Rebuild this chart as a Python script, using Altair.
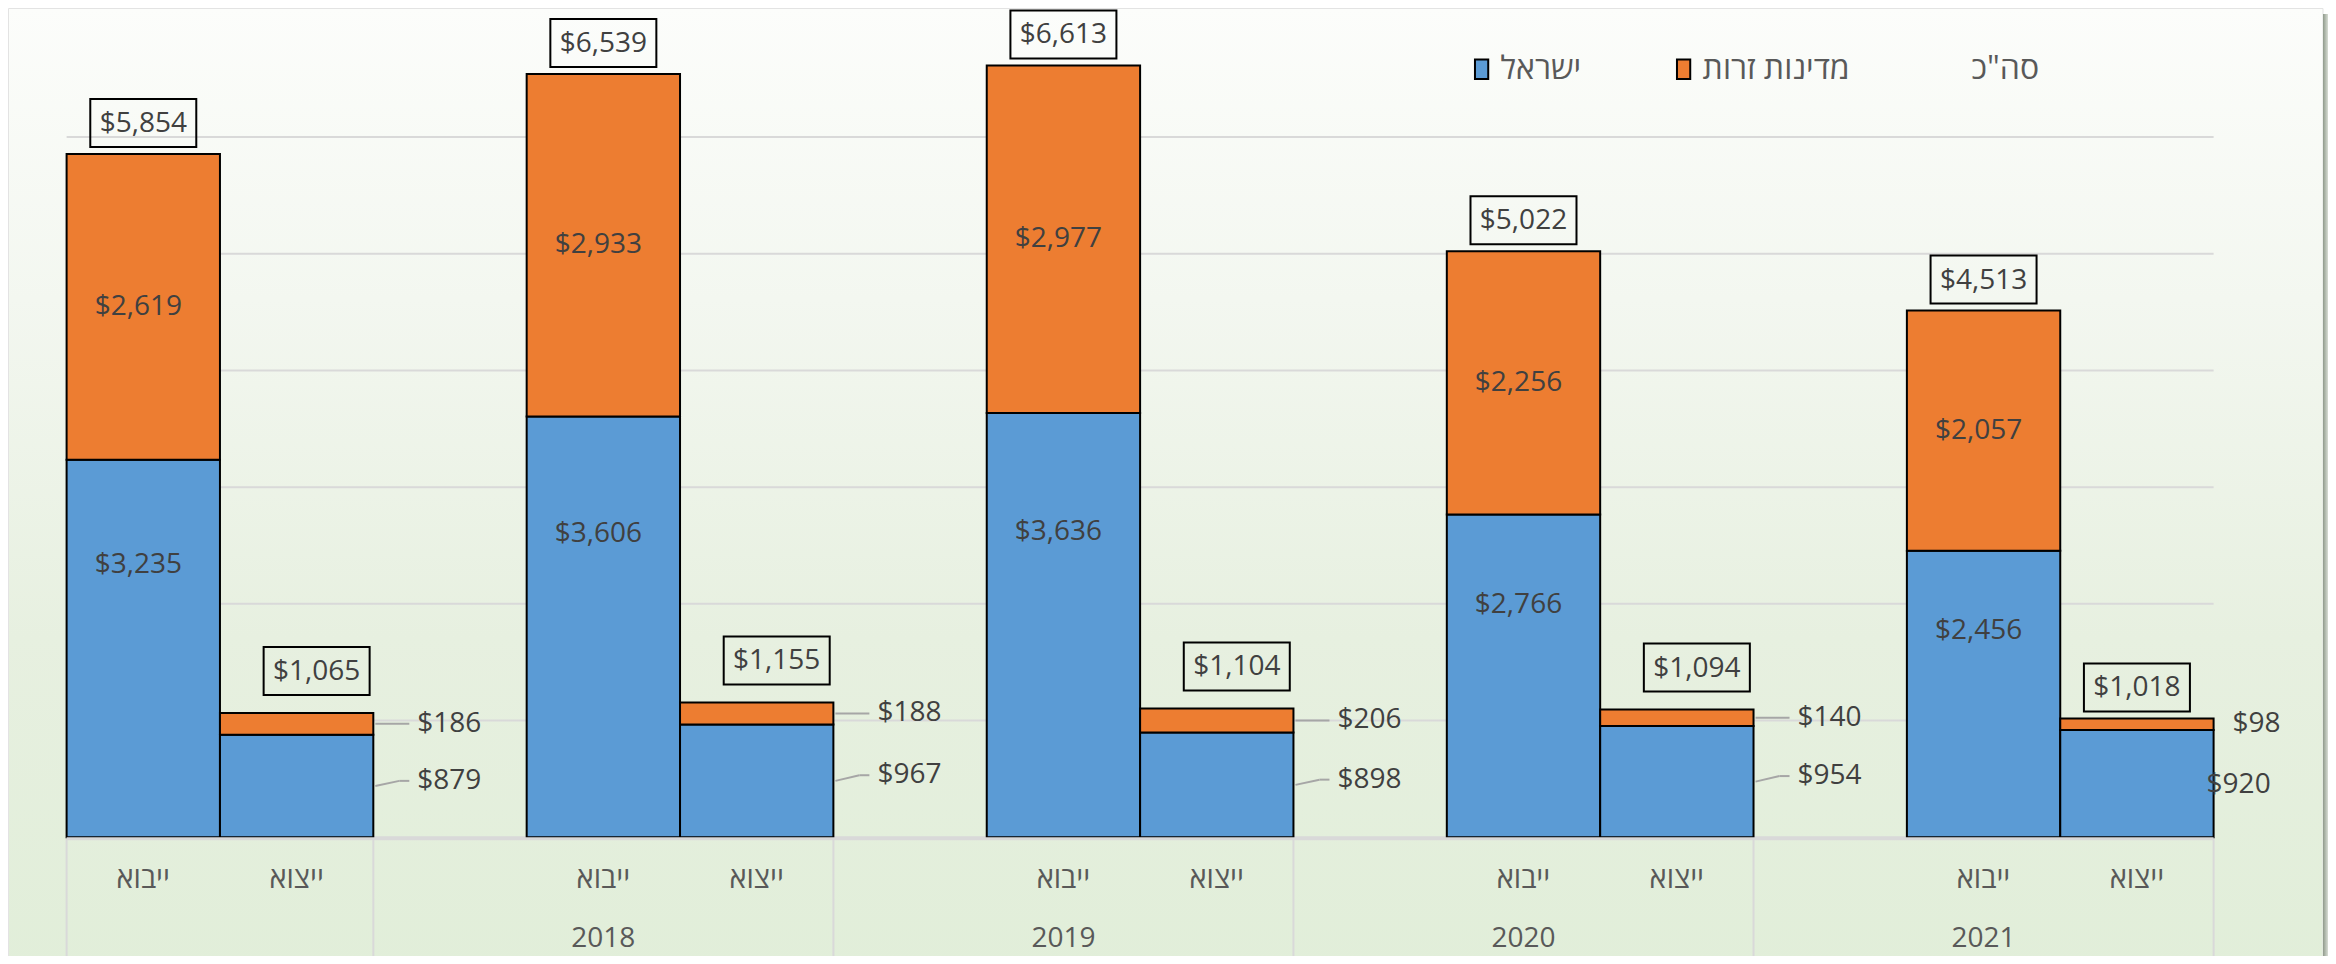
import altair as alt
import pandas as pd

# ---------------- data ----------------
years = ["", "2018", "2019", "2020", "2021"]
flow_names = ["ייבוא", "ייצוא"]
series_names = ["ישראל", "מדינות זרות", 'סה"כ']
israel_import = [3235, 3606, 3636, 2766, 2456]
foreign_import = [2619, 2933, 2977, 2256, 2057]
israel_export = [879, 967, 898, 954, 920]
foreign_export = [186, 188, 206, 140, 98]
gridlines = [0, 1000, 2000, 3000, 4000, 5000, 6000]
y_max = 7000

# ---------------- tables ----------------
slots = []
rows = []
for i, yr in enumerate(years):
    if i > 0:
        slots.append(f"{i}|")
    for k, flow in enumerate(flow_names):
        key = f"{i}|{flow}"
        slots.append(key)
        rows.append(dict(
            slot=key, year=yr, flow=flow, kind="imp" if k == 0 else "exp",
            israel=israel_import[i] if k == 0 else israel_export[i],
            foreign=foreign_import[i] if k == 0 else foreign_export[i],
            last=(i == len(years) - 1),
        ))
wide = pd.DataFrame(rows)
long = pd.DataFrame([
    dict(slot=r["slot"], series=s, value=r[c], order=o)
    for r in rows
    for o, (s, c) in enumerate([(series_names[0], "israel"), (series_names[1], "foreign")])
])

# ---------------- layout ----------------
PW, PH = 2147, 817
PAD_L, PAD_T = 58.6, 12.3
TOTAL_W, TOTAL_H = 2320, 948
HALF = PW / len(slots) / 2
FONT = "Open Sans, Liberation Sans, DejaVu Sans"
TXT = "#404040"
AX = "#595959"
GRID = "#d9d9d9"
FS = 28

xscale = alt.Scale(type="band", domain=slots, paddingInner=0, paddingOuter=0)
yscale = alt.Scale(domain=[0, y_max], nice=False, zero=True)


def X(**kw):
    return alt.X("slot:N", scale=xscale, axis=None, **kw)


def Y(field):
    return alt.Y(field, scale=yscale, axis=None)


one = pd.DataFrame({"k": [0]})

bg = alt.Chart(one).mark_rect(
    color=alt.Gradient(
        gradient="linear",
        stops=[
            alt.GradientStop(color="#fcfdfb", offset=0),
            alt.GradientStop(color="#f3f7f0", offset=0.3),
            alt.GradientStop(color="#e7f0e0", offset=0.65),
            alt.GradientStop(color="#e1eed9", offset=1),
        ],
        x1=0, x2=0, y1=0, y2=1,
    ),
    stroke="#e3e3e3", strokeWidth=1,
).encode(
    x=alt.value(-PAD_L + 0.5), x2=alt.value(TOTAL_W - PAD_L - 5),
    y=alt.value(-PAD_T + 0.5), y2=alt.value(TOTAL_H - PAD_T + 20),
)

shadow = alt.Chart(one).mark_rect(
    color=alt.Gradient(
        gradient="linear",
        stops=[alt.GradientStop(color="#8f9a8b", offset=0),
               alt.GradientStop(color="#d8ddd5", offset=1)],
        x1=0, x2=1, y1=0, y2=0,
    ),
).encode(
    x=alt.value(TOTAL_W - PAD_L - 5), x2=alt.value(TOTAL_W - PAD_L),
    y=alt.value(-PAD_T + 6), y2=alt.value(TOTAL_H - PAD_T + 20),
)

grid_df = pd.DataFrame({"v": gridlines})
grid = alt.Chart(grid_df).mark_rule(color=GRID, strokeWidth=2).encode(
    y=Y("v:Q"), x=alt.value(0), x2=alt.value(PW)
)

legend = alt.Legend(
    title=None, orient="none", legendX=1399, legendY=33, direction="horizontal",
    columnPadding=86, labelFont=FONT, labelFontSize=32, labelColor=AX,
    symbolType="M-0.68,-1H0.68V1H-0.68Z", symbolSize=380, symbolStrokeWidth=2,
    labelOffset=3, padding=0,
)

bars = alt.Chart(long).mark_bar(strokeWidth=2).encode(
    x=X(),
    y=alt.Y("value:Q", stack="zero", scale=yscale, axis=None),
    color=alt.Color("series:N", scale=alt.Scale(domain=series_names,
                    range=["#5b9bd5", "#ed7d31", "rgba(0,0,0,0)"]), legend=legend),
    stroke=alt.Stroke("series:N", scale=alt.Scale(domain=series_names,
                      range=["#000000", "#000000", "rgba(0,0,0,0)"]), legend=legend),
    order=alt.Order("order:Q", sort="ascending"),
)

baseline = alt.Chart(grid_df).transform_filter("datum.v == 0").mark_rule(
    color=GRID, strokeWidth=3, yOffset=1.5
).encode(y=Y("v:Q"), x=alt.value(0), x2=alt.value(PW))

base = alt.Chart(wide)
money = lambda f: f"'$' + format(datum.{f}, ',')"

# --- labels inside import bars ---
imp = base.transform_filter("datum.kind == 'imp'")
imp_or = imp.transform_calculate(
    ypos="datum.israel + datum.foreign / 2", txt=money("foreign")
).mark_text(font=FONT, fontSize=FS, color=TXT, dx=-5).encode(
    x=X(bandPosition=0.5), y=Y("ypos:Q"), text="txt:N")
imp_bl = imp.transform_calculate(
    ypos="datum.israel * 0.72", txt=money("israel")
).mark_text(font=FONT, fontSize=FS, color=TXT, dx=-5).encode(
    x=X(bandPosition=0.5), y=Y("ypos:Q"), text="txt:N")

# --- labels next to export bars ---
exp = base.transform_filter("datum.kind == 'exp' && !datum.last")
exp_or = exp.transform_calculate(
    ypos="datum.israel + datum.foreign / 2", txt=money("foreign")
).mark_text(font=FONT, fontSize=FS, color=TXT, align="left", dx=HALF + 44).encode(
    x=X(bandPosition=0.5), y=Y("ypos:Q"), text="txt:N")
exp_bl = exp.transform_calculate(
    ypos="datum.israel * 0.55", txt=money("israel")
).mark_text(font=FONT, fontSize=FS, color=TXT, align="left", dx=HALF + 44).encode(
    x=X(bandPosition=0.5), y=Y("ypos:Q"), text="txt:N")

lead_or = exp.transform_calculate(ypos="datum.israel + datum.foreign / 2").mark_rule(
    color="#a6a6a6", strokeWidth=2, xOffset=HALF + 2, x2Offset=HALF + 36
).encode(x=X(bandPosition=0.5), x2=alt.X2("slot:N", bandPosition=0.5),
         y=Y("ypos:Q"), y2=alt.Y2("ypos:Q"))
lead_bl1 = exp.transform_calculate(ypos="datum.israel * 0.55", ymid="datum.israel / 2").mark_rule(
    color="#a6a6a6", strokeWidth=2, xOffset=HALF + 2, x2Offset=HALF + 26
).encode(x=X(bandPosition=0.5), x2=alt.X2("slot:N", bandPosition=0.5),
         y=Y("ymid:Q"), y2=alt.Y2("ypos:Q"))
lead_bl2 = exp.transform_calculate(ypos="datum.israel * 0.55").mark_rule(
    color="#a6a6a6", strokeWidth=2, xOffset=HALF + 26, x2Offset=HALF + 36
).encode(x=X(bandPosition=0.5), x2=alt.X2("slot:N", bandPosition=0.5),
         y=Y("ypos:Q"), y2=alt.Y2("ypos:Q"))

last = base.transform_filter("datum.kind == 'exp' && datum.last")
last_or = last.transform_calculate(
    ypos="datum.israel + datum.foreign / 2", txt=money("foreign")
).mark_text(font=FONT, fontSize=FS, color=TXT, align="left", dx=HALF + 19).encode(
    x=X(bandPosition=0.5), y=Y("ypos:Q"), text="txt:N")
last_bl = last.transform_calculate(
    ypos="datum.israel * 0.49", txt=money("israel")
).mark_text(font=FONT, fontSize=FS, color=TXT, align="left", dx=HALF - 7).encode(
    x=X(bandPosition=0.5), y=Y("ypos:Q"), text="txt:N")

# --- total boxes ---
BOX = "M-1,-0.453H1V0.453H-1Z"


def total_layers(src, xo, yo):
    t = src.transform_calculate(total="datum.israel + datum.foreign",
                                txt="'$' + format(datum.israel + datum.foreign, ',')")
    box = t.mark_point(shape=BOX, size=106 * 106, filled=False, stroke="#000000",
                       strokeWidth=2, opacity=1, xOffset=xo, yOffset=yo).encode(
        x=X(bandPosition=0.5), y=Y("total:Q"))
    txt = t.mark_text(font=FONT, fontSize=FS, color=TXT, baseline="middle",
                      xOffset=xo, yOffset=yo + 1).encode(
        x=X(bandPosition=0.5), y=Y("total:Q"), text="txt:N")
    return [box, txt]


totals = (total_layers(imp, 0, -31) + total_layers(exp, 20, -42)
          + total_layers(last, 0, -31))

# --- category axis ---
sep_r = base.transform_filter("datum.kind == 'exp'").mark_rule(color=GRID, strokeWidth=2).encode(
    x=X(bandPosition=1), y=alt.value(PH), y2=alt.value(PH + 121))
sep_l = base.transform_filter(f"datum.slot == '{slots[0]}'").mark_rule(color=GRID, strokeWidth=2).encode(
    x=X(bandPosition=0), y=alt.value(PH), y2=alt.value(PH + 121))
flow_lbl = base.mark_text(font=FONT, fontSize=29, color=AX, baseline="middle").encode(
    x=X(bandPosition=0.5), y=alt.value(PH + 42), text="flow:N")
year_lbl = imp.mark_text(font=FONT, fontSize=FS, color=AX, baseline="middle").encode(
    x=X(bandPosition=0.5), y=alt.value(PH + 102), text="year:N")

chart = alt.layer(
    bg, shadow, grid, sep_r, sep_l, bars, baseline,
    imp_or, imp_bl, lead_or, lead_bl1, lead_bl2, exp_or, exp_bl, last_or, last_bl,
    *totals, flow_lbl, year_lbl,
).properties(
    width=PW, height=PH,
    autosize=alt.AutoSizeParams(type="none"),
    padding={"left": PAD_L, "top": PAD_T,
             "right": TOTAL_W - PAD_L - PW, "bottom": TOTAL_H - PAD_T - PH},
).configure_view(stroke=None).configure(background="#ffffff")

chart.save("out.html", embed_options={"renderer": "svg", "actions": False})
